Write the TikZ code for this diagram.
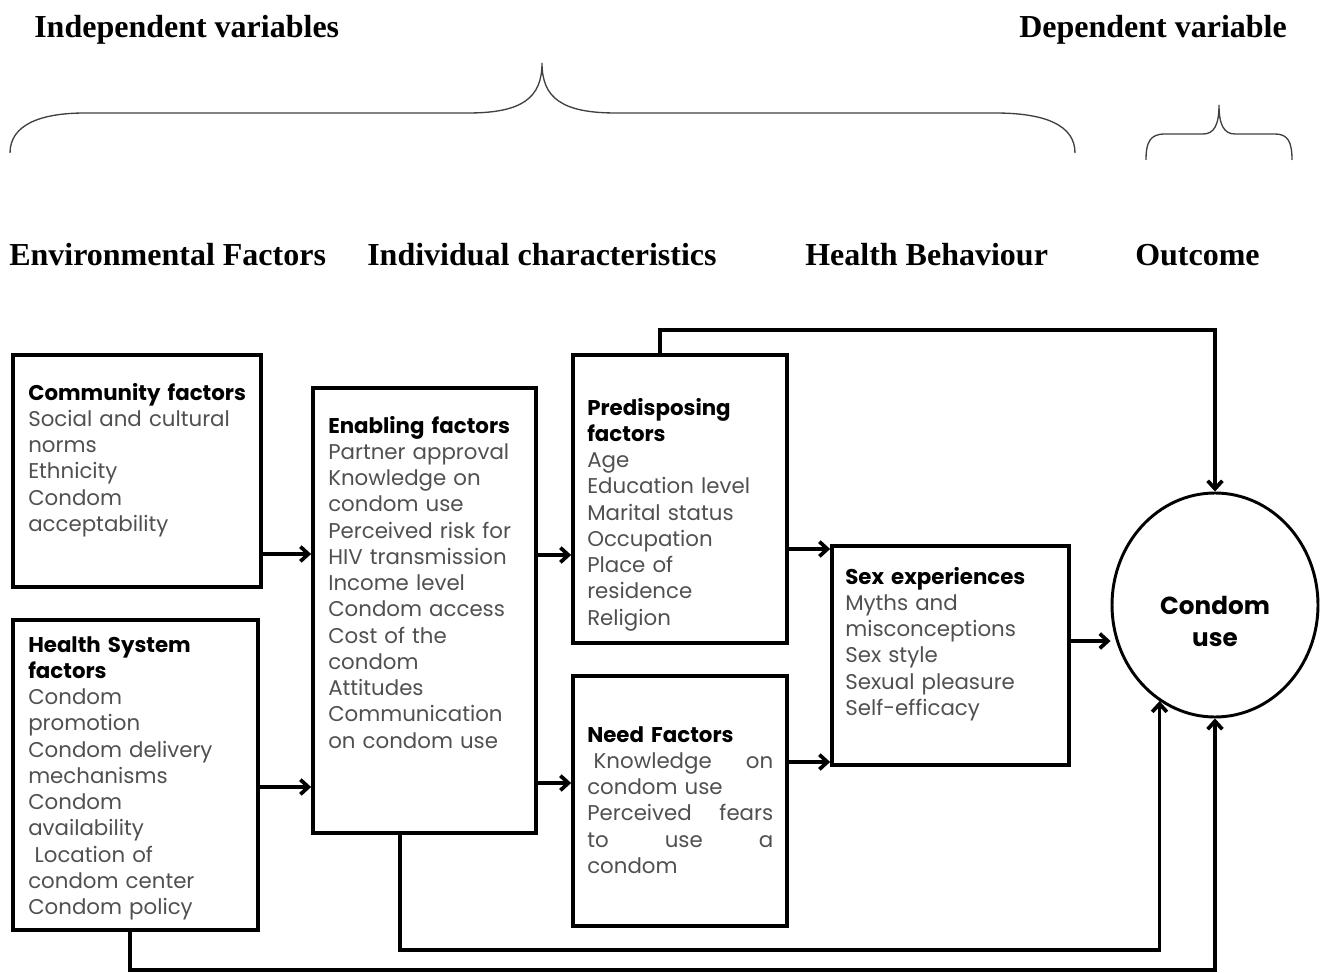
\documentclass[tikz,border=0pt]{standalone}
\usepackage{fontspec}
\setmainfont{Liberation Serif}
\newfontfamily\bodyfont{Poppins}
\usetikzlibrary{arrows.meta,fit,shapes.geometric}
\definecolor{txtgray}{HTML}{505050}
\newcommand\jf{\hskip 0pt plus 1filll\relax}
\newcommand\ttl[1]{{\color{black}\bfseries #1}}
\begin{document}
\begin{tikzpicture}[x=0.75pt,y=-0.75pt,
  box/.style={draw, line width=2.8pt, inner sep=0pt, rectangle},
  txt/.style={anchor=base west, inner sep=0pt, align=left, text width=190pt,
    font=\bodyfont\fontsize{16}{19.7}\selectfont, text=txtgray},
  hdr/.style={anchor=base west, inner sep=0pt, font=\fontsize{24}{28}\selectfont\bfseries},
  arr/.style={line width=2.8pt, -{Straight Barb[length=6pt,width=11pt]}},
  brace/.style={line width=1pt, draw=black!75}
]
\useasboundingbox (0,0) rectangle (1327,973);

% headers
\node[hdr] (hiv) at (34,38) {Independent variables};
\node[hdr] (hdv) at (1019,38) {Dependent variable};
\node[hdr] (hef) at (9,266) {Environmental Factors};
\node[hdr] (hic) at (367,266) {Individual characteristics};
\node[hdr] (hhb) at (805,266) {Health Behaviour};
\node[hdr] (hout) at (1135,266) {Outcome};

% braces
\draw[brace] (10,153) .. controls (10,125) and (40,113) .. (85,113) -- (468,113)
  .. controls (522,113) and (542,98) .. (542,63)
  .. controls (542,98) and (562,113) .. (616,113) -- (995,113)
  .. controls (1045,113) and (1075,125) .. (1075,153);
\draw[brace] (1146,160) .. controls (1146,142) and (1150,134) .. (1165,134) -- (1203,134)
  .. controls (1214,134) and (1219,125) .. (1219,105)
  .. controls (1219,125) and (1224,134) .. (1235,134) -- (1275,134)
  .. controls (1288,134) and (1292,142) .. (1292,160);

% boxes
\node[box, fit={(13,355) (261,587)}] (comm) {};
\node[box, fit={(13,620) (258,930)}] (hs) {};
\node[box, fit={(313,388) (536,833)}] (ena) {};
\node[box, fit={(573,355) (787,643)}] (pre) {};
\node[box, fit={(573,676) (787,926)}] (need) {};
\node[box, fit={(832,546) (1069,765)}] (sex) {};
\node[draw, ellipse, line width=2.2pt, inner sep=0pt, minimum width=154.5pt, minimum height=168pt] (cu) at (1215,605) {};

% texts
\node[txt] (tcomm) at (28,400) {\ttl{Community factors}\\Social and cultural\\norms\\Ethnicity\\Condom\\acceptability};
\node[txt] (ths) at (28,652) {\ttl{Health System}\\\ttl{factors}\\Condom\\promotion\\Condom delivery\\mechanisms\\Condom\\availability\\\hspace*{.3em}Location of\\condom center\\Condom policy};
\node[txt] (tena) at (328,433) {\ttl{Enabling factors}\\Partner approval\\Knowledge on\\condom use\\Perceived risk for\\HIV transmission\\Income level\\Condom access\\Cost of the\\condom\\Attitudes\\Communication\\on condom use};
\node[txt] (tpre) at (587,415) {\ttl{Predisposing}\\\ttl{factors}\\Age\\Education level\\Marital status\\Occupation\\Place of\\residence\\Religion};
\node[txt, text width=139.5pt] (tneed) at (587,742) {\ttl{Need Factors}\\\hspace*{.3em}Knowledge\jf on\\condom use\\Perceived\jf fears\\to\jf use\jf a\\condom};
\node[txt] (tsex) at (845,584) {\ttl{Sex experiences}\\Myths and\\misconceptions\\Sex style\\Sexual pleasure\\Self-efficacy};
\node[anchor=base, inner sep=0pt, align=center, font=\bodyfont\bfseries\fontsize{18.5}{23.3}\selectfont] (tcu) at (1215,646) {Condom\\use};

% connectors
\coordinate (r1) at (0,554);
\coordinate (r2) at (0,787);
\coordinate (r3) at (0,555);
\coordinate (r4) at (0,783);
\coordinate (r5) at (0,549);
\coordinate (r6) at (0,762);
\coordinate (r7) at (0,641);
\draw[arr] (comm.east |- r1) -- (ena.west |- r1);
\draw[arr] (hs.east |- r2) -- (ena.west |- r2);
\draw[arr] (ena.east |- r3) -- (pre.west |- r3);
\draw[arr] (ena.east |- r4) -- (need.west |- r4);
\draw[arr] (pre.east |- r5) -- (sex.west |- r5);
\draw[arr] (need.east |- r6) -- (sex.west |- r6);
\draw[arr] (sex.east |- r7) -- (cu.west |- r7);

\coordinate (t1) at (660,330);
\draw[arr] (pre.north -| t1) -- (t1) -- (t1 -| cu.north) -- (cu.north);
\coordinate (b1) at (400,950);
\draw[arr] (ena.south -| b1) -- (b1) -- (b1 -| cu.240) -- (cu.240);
\coordinate (b2) at (130,970);
\draw[arr] (hs.south -| b2) -- (b2) -- (b2 -| cu.south) -- (cu.south);
\end{tikzpicture}
\end{document}
